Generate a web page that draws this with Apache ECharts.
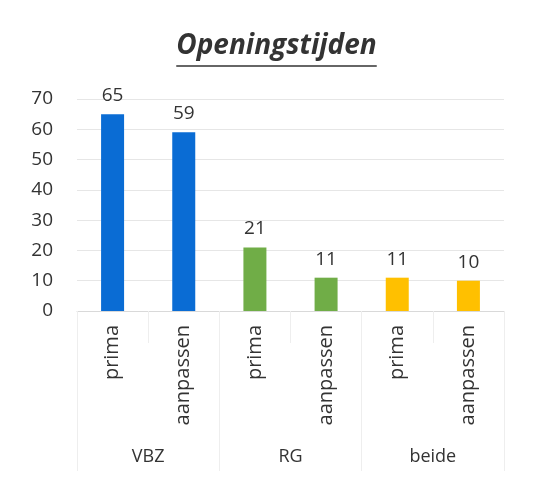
<!DOCTYPE html>
<html><head><meta charset="utf-8">
<script src="https://cdn.jsdelivr.net/npm/echarts@6/dist/echarts.min.js"></script>
<style>html,body{margin:0;padding:0;background:#fff}#c{width:553px;height:477px}</style>
</head><body><div id="c"></div>
<script>
const titleText = 'Openingstijden';
const categories = ['prima','aanpassen','prima','aanpassen','prima','aanpassen'];
const groups = ['VBZ','RG','beide'];
const values = [65, 59, 21, 11, 11, 10];
const barColors = ['#0a6cd4','#0a6cd4','#70ad47','#70ad47','#ffc000','#ffc000'];
const yTicks = [0, 10, 20, 30, 40, 50, 60, 70];

const font = '"Open Sans", sans-serif';
const titleSize = 28;
const ctx = document.createElement('canvas').getContext('2d');
ctx.font = 'italic bold ' + titleSize + 'px "Open Sans"';
const tw = ctx.measureText(titleText).width;
const cx = 553 / 2;

const chart = echarts.init(document.getElementById('c'), null, {renderer:'canvas'});
chart.setOption({
  animation: false,
  backgroundColor: '#fff',
  title: {
    text: titleText, left: 'center', top: 27,
    textStyle: {fontFamily: font, fontSize: titleSize, fontWeight: 'bold', fontStyle: 'italic', color: '#333'}
  },
  graphic: [{
    type: 'line', shape: {x1: cx - tw / 2, y1: 66, x2: cx + tw / 2, y2: 66},
    style: {stroke: '#333', lineWidth: 1.5}
  }],
  grid: {left: 77, right: 49, top: 99, bottom: 166},
  xAxis: [{
    type: 'category', data: categories, position: 'bottom',
    axisLine: {show: true, lineStyle: {color: '#d9d9d9'}},
    axisTick: {show: true, length: 32, lineStyle: {color: '#eeeeee'}},
    axisLabel: {rotate: 90, fontFamily: font, fontSize: 20, color: '#333', margin: 14}
  }, {
    type: 'category', data: groups, position: 'bottom',
    axisLine: {show: false},
    axisTick: {show: true, length: 160, lineStyle: {color: '#eeeeee'}},
    axisLabel: {fontFamily: font, fontSize: 18, color: '#333', margin: 137}
  }],
  yAxis: {
    type: 'value', min: yTicks[0], max: yTicks[yTicks.length-1], interval: 10,
    axisLine: {show: false}, axisTick: {show: false},
    axisLabel: {fontFamily: font, fontSize: 19, color: '#333', margin: 24},
    splitLine: {lineStyle: {color: '#e6e6e6'}}
  },
  series: [{
    type: 'bar', xAxisIndex: 0, barWidth: 23,
    data: values.map((v, i) => ({value: v, itemStyle: {color: barColors[i]}})),
    label: {show: true, position: 'top', distance: 9, fontFamily: font, fontSize: 19, color: '#333'}
  }]
});
</script></body></html>
